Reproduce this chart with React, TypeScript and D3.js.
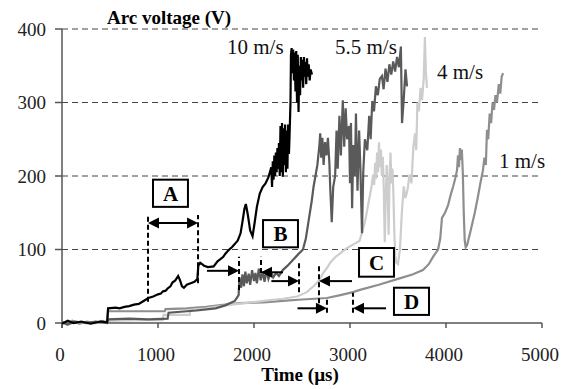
import React from "react";
import * as d3 from "d3";

type P = [number, number];

const xTicks = [0, 1000, 2000, 3000, 4000, 5000];
const yTicks = [0, 100, 200, 300, 400];

const tenMs: P[] = [[0,-1],[60,3],[120,0],[200,2],[300,-1],[400,2],[470,1],[480,20],[560,21],[600,20],[650,22],[700,23],[750,25],[800,26],[850,30],[900,34],[950,36],[1000,39],[1030,40],[1050,43],[1080,44],[1100,47],[1130,50],[1150,55],[1180,58],[1210,64],[1230,58],[1250,50],[1270,48],[1300,52],[1340,54],[1380,56],[1410,60],[1420,78],[1440,82],[1480,78],[1520,76],[1580,77],[1620,84],[1640,86],[1660,88],[1680,90],[1700,94],[1720,97],[1750,101],[1770,103],[1790,106],[1810,109],[1830,112],[1860,122],[1880,138],[1900,155],[1915,162],[1935,148],[1960,126],[1985,118],[2005,135],[2030,158],[2060,176],[2090,185],[2120,190],[2150,198],[2180,212],[2188,185],[2196,220],[2204,195],[2212,228],[2220,200],[2228,232],[2236,205],[2244,238],[2252,210],[2260,245],[2268,200],[2276,268],[2284,205],[2292,272],[2300,199],[2308,265],[2316,215],[2324,270],[2332,205],[2340,262],[2348,210],[2356,270],[2364,230],[2372,262],[2380,300],[2385,365],[2392,374],[2400,340],[2408,372],[2416,330],[2424,368],[2432,315],[2440,370],[2448,300],[2456,365],[2464,287],[2472,350],[2480,310],[2488,362],[2496,330],[2504,358],[2512,320],[2520,362],[2528,335],[2536,355],[2544,325],[2552,360],[2560,335],[2570,352],[2580,330],[2590,345],[2604,338]];

const fiveMs: P[] = [[0,1],[60,-2],[130,2],[250,0],[350,2],[470,0],[480,5],[700,6],[900,5],[1100,6],[1110,14],[1400,17],[1600,20],[1700,24],[1800,30],[1840,38],[1848,62],[1865,48],[1880,66],[1895,50],[1910,70],[1925,54],[1945,67],[1960,52],[1980,72],[2000,57],[2015,68],[2030,54],[2050,74],[2070,58],[2090,70],[2110,56],[2130,72],[2150,60],[2175,70],[2200,62],[2230,68],[2260,64],[2300,72],[2350,78],[2400,85],[2450,92],[2510,100],[2540,115],[2570,140],[2600,165],[2620,185],[2640,200],[2660,215],[2680,240],[2690,258],[2700,225],[2712,252],[2725,215],[2740,246],[2755,228],[2770,252],[2785,218],[2795,181],[2810,137],[2825,185],[2845,200],[2860,262],[2872,210],[2890,282],[2905,228],[2925,303],[2940,240],[2955,292],[2970,250],[2990,268],[3000,190],[3010,272],[3022,156],[3035,242],[3050,200],[3062,285],[3078,180],[3095,262],[3108,212],[3125,122],[3138,205],[3155,250],[3180,235],[3200,282],[3215,250],[3232,302],[3250,288],[3270,322],[3290,310],[3310,332],[3333,336],[3350,318],[3370,346],[3390,328],[3410,352],[3430,338],[3450,356],[3470,342],[3490,362],[3510,348],[3530,376],[3542,272],[3560,305],[3578,345],[3594,322]];

const fourMs: P[] = [[0,0],[70,-2],[150,2],[260,-1],[380,1],[470,0],[480,3],[800,4],[1050,4],[1058,11],[1330,11],[1338,18],[1500,20],[1700,24],[1900,27],[2100,30],[2300,33],[2450,36],[2550,42],[2620,50],[2680,58],[2720,68],[2760,75],[2800,83],[2850,90],[2900,95],[2970,102],[3050,108],[3100,112],[3130,125],[3160,140],[3185,158],[3205,172],[3225,186],[3240,202],[3252,188],[3262,218],[3272,196],[3282,232],[3292,205],[3302,246],[3312,212],[3322,236],[3332,200],[3342,226],[3352,180],[3362,110],[3372,170],[3382,215],[3392,190],[3402,120],[3412,200],[3422,232],[3432,190],[3442,210],[3452,176],[3462,122],[3472,92],[3482,82],[3500,80],[3520,100],[3540,150],[3560,186],[3578,170],[3600,182],[3620,202],[3640,190],[3660,240],[3678,258],[3690,235],[3702,300],[3718,288],[3735,320],[3750,303],[3768,332],[3780,389],[3790,342],[3802,320]];

const oneMs: P[] = [[0,2],[50,-2],[110,3],[180,-1],[260,2],[340,0],[420,3],[470,1],[480,16],[800,16],[1070,16],[1078,19],[1300,20],[1500,22],[1700,25],[1850,27],[2100,28],[2300,30],[2500,32],[2760,34],[2900,38],[3031,42],[3104,45],[3300,52],[3500,60],[3650,66],[3760,72],[3820,80],[3865,90],[3917,100],[3940,115],[3958,143],[3990,150],[4021,160],[4050,175],[4073,185],[4095,196],[4115,208],[4125,228],[4135,212],[4145,238],[4155,222],[4165,236],[4175,205],[4185,150],[4195,112],[4205,103],[4220,106],[4250,122],[4300,150],[4330,170],[4355,188],[4385,208],[4400,225],[4415,215],[4427,263],[4440,250],[4455,285],[4470,272],[4485,300],[4500,290],[4515,310],[4531,300],[4550,325],[4565,312],[4580,335],[4594,340]];

const seriesNames = ["1 m/s", "4 m/s", "5.5 m/s", "10 m/s"];
const seriesData = [oneMs, fourMs, fiveMs, tenMs];
const seriesColors = ["#8e8e8e", "#cdcdcd", "#5a5a5a", "#000000"];
const seriesLabelPos: P[] = [[4552, 211], [3906, 332], [2844, 366], [1719, 366]];

// annotations in data units
const dashT = [896, 1417, 1844, 2073, 2469, 2677, 2760, 3031];
const dashLow = [29, 54, 45, 68, 42, 27, 14, 14];
const dashHigh = [147, 147, 90, 90, 82, 79, 34, 41];

const arrowFrom = [1510, 2302, 2181, 3021, 2453, 3375];
const arrowTo = [1844, 2073, 2469, 2677, 2760, 3031];
const arrowV = [71, 69, 57, 57, 20, 20];
const doubleArrow = { t0: 896, t1: 1417, v: 136 };

const boxLabels = ["A", "B", "C", "D"];
const boxT0 = [948, 2094, 3094, 3458];
const boxT1 = [1312, 2458, 3458, 3823];
const boxV0 = [158, 103, 63, 11];
const boxV1 = [195, 140, 102, 48];

const W = 564, H = 389;
const x = d3.scaleLinear().domain([0, 5000]).range([62, 542]);
const y = d3.scaleLinear().domain([0, 400]).range([323, 29]);

const FONT = "'Liberation Serif', 'Times New Roman', serif";

function head(px: number, py: number, dir: number) {
  const L = 11, h = 5.5;
  return `M${px},${py}L${px - dir * L},${py - h}L${px - dir * L},${py + h}Z`;
}

export default function App() {
  const line = d3.line<P>().x(d => x(d[0])).y(d => y(d[1]));
  return (
    <svg width={W} height={H} style={{ position: "absolute", left: 0, top: 0, background: "#fff" }} fontFamily={FONT}>
      <rect width={W} height={H} fill="#fff" />
      {yTicks.filter(v => v > 0).map(v => (
        <line key={v} x1={x(0)} x2={x(5000) - 2} y1={y(v)} y2={y(v)} stroke="#444" strokeWidth={1.2} strokeDasharray="6,4" />
      ))}
      <line x1={x(0)} x2={x(0)} y1={y(400)} y2={y(0) + 5} stroke="#555" strokeWidth={1.5} />
      <line x1={x(0)} x2={x(5000)} y1={y(0)} y2={y(0)} stroke="#555" strokeWidth={1.5} />
      {yTicks.map(v => (
        <g key={v}>
          <line x1={x(0) - 7} x2={x(0)} y1={y(v)} y2={y(v)} stroke="#555" strokeWidth={1.5} />
          <text x={46} y={y(v) + 6.5} textAnchor="end" fontSize={19} fill="#222">{v}</text>
        </g>
      ))}
      {xTicks.map(t => (
        <g key={t}>
          <line x1={x(t)} x2={x(t)} y1={y(0)} y2={y(0) + 5} stroke="#555" strokeWidth={1.5} />
          <text x={x(t) - 2} y={361} textAnchor="middle" fontSize={19} fill="#222">{t}</text>
        </g>
      ))}
      {seriesData.map((s, i) => (
        <path key={i} d={line(s) || ""} fill="none" stroke={seriesColors[i]} strokeWidth={2.2} strokeLinejoin="miter" />
      ))}
      {dashT.map((t, i) => (
        <line key={i} x1={x(t)} x2={x(t)} y1={y(dashLow[i])} y2={y(dashHigh[i])} stroke="#000" strokeWidth={2} strokeDasharray="5,3" />
      ))}
      {arrowFrom.map((f, i) => {
        const dir = arrowTo[i] > f ? 1 : -1;
        const px = x(arrowTo[i]), py = y(arrowV[i]);
        return (
          <g key={i}>
            <line x1={x(f)} x2={px - dir * 8} y1={py} y2={py} stroke="#000" strokeWidth={2} />
            <path d={head(px, py, dir)} fill="#000" />
          </g>
        );
      })}
      <g>
        <line x1={x(doubleArrow.t0) + 8} x2={x(doubleArrow.t1) - 8} y1={y(doubleArrow.v)} y2={y(doubleArrow.v)} stroke="#000" strokeWidth={2} />
        <path d={head(x(doubleArrow.t1), y(doubleArrow.v), 1)} fill="#000" />
        <path d={head(x(doubleArrow.t0), y(doubleArrow.v), -1)} fill="#000" />
      </g>
      {boxLabels.map((lab, i) => {
        const x0 = x(boxT0[i]), x1 = x(boxT1[i]), y0 = y(boxV1[i]), y1 = y(boxV0[i]);
        return (
          <g key={lab}>
            <rect x={x0} y={y0} width={x1 - x0} height={y1 - y0} fill="#fff" stroke="#000" strokeWidth={2} />
            <text x={(x0 + x1) / 2} y={(y0 + y1) / 2 + 7.5} textAnchor="middle" fontSize={21} fontWeight="bold" fill="#000">{lab}</text>
          </g>
        );
      })}
      {seriesNames.map((n, i) => (
        <text key={n} x={x(seriesLabelPos[i][0])} y={y(seriesLabelPos[i][1])} fontSize={21} fill="#111">{n}</text>
      ))}
      <text x={107} y={24} fontSize={19} fontWeight="bold" fill="#000">Arc voltage (V)</text>
      <text x={300} y={381} textAnchor="middle" fontSize={19} fontWeight="bold" fill="#000">Time (µs)</text>
    </svg>
  );
}
